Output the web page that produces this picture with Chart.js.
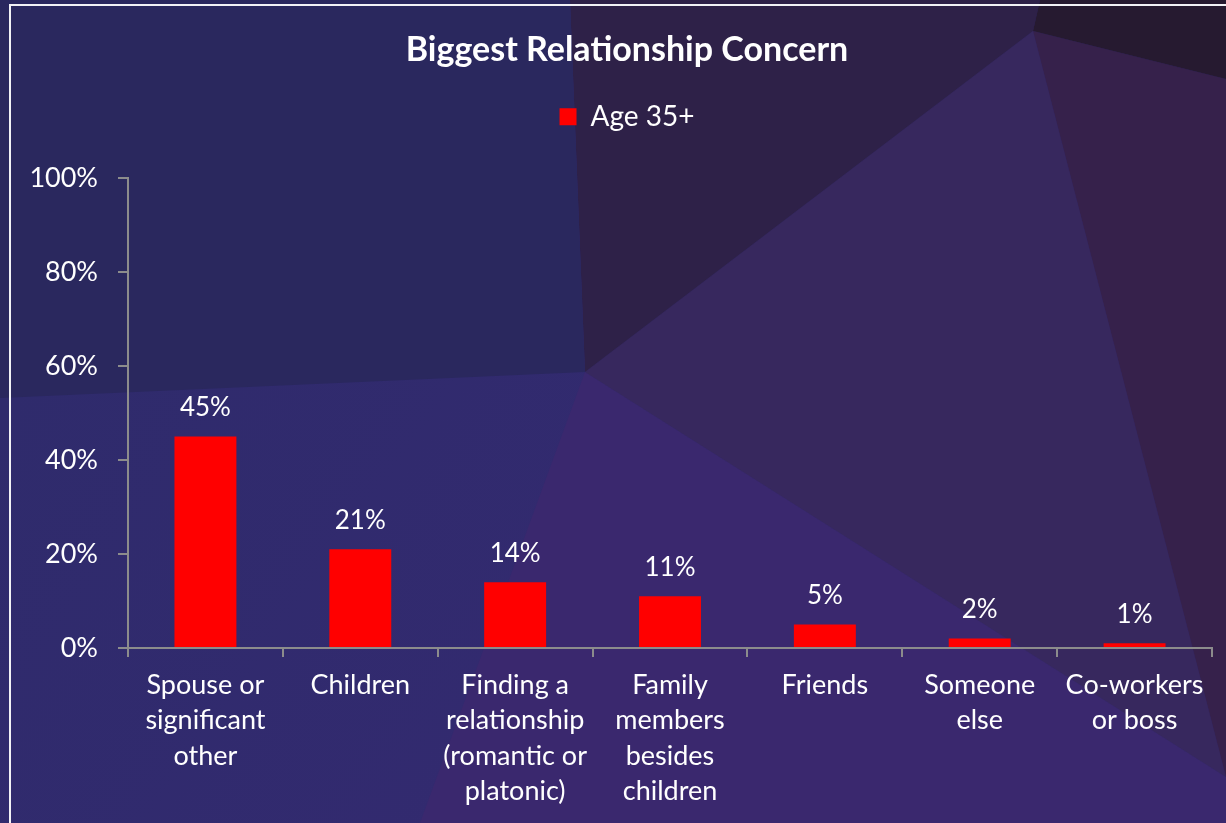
<!DOCTYPE html>
<html>
<head>
<meta charset="utf-8">
<script src="https://cdn.jsdelivr.net/npm/chart.js@4"></script>
<style>
  html, body { margin: 0; padding: 0; background: #2c2a62; }
  #wrap { width: 1226px; height: 823px; position: relative; }
</style>
</head>
<body>
<div id="wrap"><canvas id="chart"></canvas></div>
<script>
const categories = [
  ["Spouse or", "significant", "other"],
  ["Children"],
  ["Finding a", "relationship", "(romantic or", "platonic)"],
  ["Family", "members", "besides", "children"],
  ["Friends"],
  ["Someone", "else"],
  ["Co-workers", "or boss"]
];
const age35Plus = [45, 21, 14, 11, 5, 2, 1];
const yTicks = [0, 20, 40, 60, 80, 100];

const FONT = "Lato, 'Open Sans', sans-serif";
const AXIS_GREY = "#8c8c8c";

// faceted backdrop, drawn behind everything
const backdrop = {
  id: "backdrop",
  beforeDraw(chart)
  {
    const ctx = chart.ctx;
    const w = chart.width, h = chart.height;
    const poly = (pts, fill) => {
      ctx.beginPath();
      ctx.moveTo(pts[0][0], pts[0][1]);
      for (let i = 1; i < pts.length; i++)
        ctx.lineTo(pts[i][0], pts[i][1]);
      ctx.closePath();
      ctx.fillStyle = fill;
      ctx.fill();
    };
    ctx.save();
    const base = ctx.createLinearGradient(0, 400, 600, h);
    base.addColorStop(0, "#2f2b6c");
    base.addColorStop(1, "#332a70");
    poly([[0, 0], [w, 0], [w, h], [0, h]], base);
    poly([[585, 372], [1226, 777], [w, h], [420, h]], "#3a286e");
    poly([[585, 372], [1033, 31], [1226, 777]], "#37285e");
    poly([[1033, 31], [w, 79], [w, 777]], "#36214b");
    poly([[570, 0], [1040, 0], [1033, 31], [585, 372]], "#2e2148");
    poly([[1040, 0], [w, 0], [w, 79], [1033, 31]], "#261a30");
    poly([[0, 0], [570, 0], [585, 372], [0, 398]], "#2a285e");
    // thin frame along the top and left
    ctx.fillStyle = "#f2f2f6";
    ctx.fillRect(9, 4, w - 9, 2);
    ctx.fillRect(9, 4, 2, h - 4);
    ctx.restore();
  }
};

// percentage labels above each bar
const valueLabels = {
  id: "valueLabels",
  afterDatasetsDraw(chart)
  {
    const ctx = chart.ctx;
    const meta = chart.getDatasetMeta(0);
    ctx.save();
    ctx.font = "26px " + FONT;
    ctx.fillStyle = "#ffffff";
    ctx.textAlign = "center";
    ctx.textBaseline = "middle";
    meta.data.forEach((bar, i) => {
      ctx.fillText(age35Plus[i] + "%", bar.x, bar.y - 29);
    });
    ctx.restore();
  }
};

// extra room between the legend and the plot, and a small nudge
// to the right for the header blocks
const headerLayout = {
  id: "headerLayout",
  beforeLayout(chart)
  {
    const legend = chart.legend;
    if (!legend || legend._gapPatched)
      return;
    const fit = legend.fit;
    legend.fit = function()
    {
      fit.call(this);
      this.height += 37;
    };
    legend._gapPatched = true;
  },
  afterLayout(chart)
  {
    for (const box of [chart.titleBlock, chart.legend])
    {
      if (box)
        box.left += 20;
    }
  }
};

new Chart(document.getElementById("chart"), {
  type: "bar",
  data: {
    labels: categories,
    datasets: [{
      label: "Age 35+",
      data: age35Plus,
      backgroundColor: "#ff0000",
      borderWidth: 0,
      barPercentage: 0.4,
      categoryPercentage: 1.0
    }]
  },
  options: {
    responsive: true,
    maintainAspectRatio: false,
    animation: false,
    devicePixelRatio: 1,
    layout: { padding: { left: 22, right: 14, top: 0, bottom: 0 } },
    plugins: {
      title: {
        display: true,
        text: "Biggest Relationship Concern",
        color: "#ffffff",
        font: { family: FONT, size: 34, weight: "bold", lineHeight: 1.2 },
        padding: { top: 30, bottom: 22 }
      },
      legend: {
        display: true,
        labels: {
          color: "#ffffff",
          font: { family: FONT, size: 28 },
          boxWidth: 17,
          boxHeight: 17,
          padding: 10
        }
      },
      tooltip: { enabled: false }
    },
    scales: {
      x: {
        grid: {
          display: true,
          drawOnChartArea: false,
          drawTicks: true,
          tickLength: 9,
          color: AXIS_GREY,
          lineWidth: 2
        },
        border: { display: true, color: AXIS_GREY, width: 2 },
        ticks: {
          color: "#ffffff",
          font: { family: FONT, size: 27, lineHeight: 1.32 },
          padding: 10,
          maxRotation: 0,
          autoSkip: false
        },
        afterFit(scale) { scale.height = 175; }
      },
      y: {
        min: 0,
        max: 100,
        afterBuildTicks(scale) { scale.ticks = yTicks.map(v => ({ value: v })); },
        grid: {
          display: true,
          drawOnChartArea: false,
          drawTicks: true,
          tickLength: 10,
          color: AXIS_GREY,
          lineWidth: 2
        },
        border: { display: true, color: AXIS_GREY, width: 2 },
        ticks: {
          color: "#ffffff",
          font: { family: FONT, size: 27 },
          padding: 20,
          callback: v => v + "%"
        },
        afterFit(scale) { scale.width = 106; }
      }
    }
  },
  plugins: [backdrop, valueLabels, headerLayout]
});
</script>
</body>
</html>
